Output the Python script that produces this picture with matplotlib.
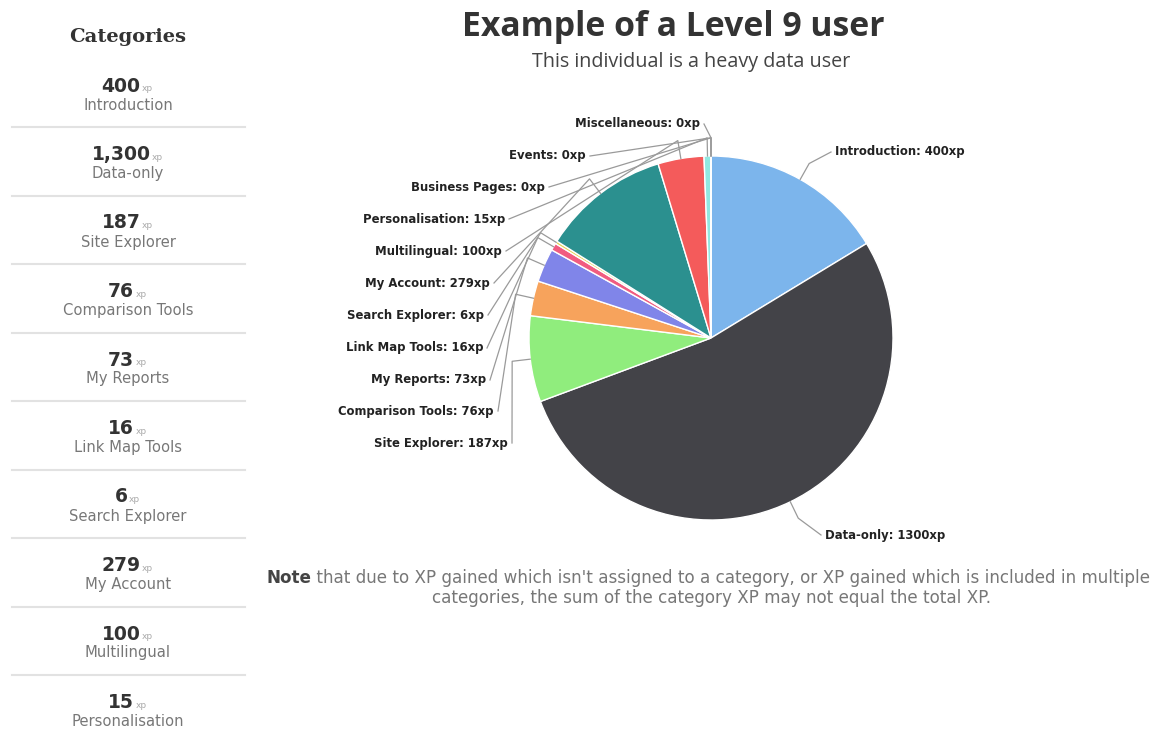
import numpy as np
import matplotlib
matplotlib.use("Agg")
import matplotlib.pyplot as plt

# ── data ────────────────────────────────────────────────────
categories = ["Introduction", "Data-only", "Site Explorer", "Comparison Tools",
              "My Reports", "Link Map Tools", "Search Explorer", "My Account",
              "Multilingual", "Personalisation", "Business Pages", "Events",
              "Miscellaneous"]
xp_values = [400, 1300, 187, 76, 73, 16, 6, 279, 100, 15, 0, 0, 0]
slice_colors = ["#7cb5ec", "#434348", "#90ed7d", "#f7a35c", "#8085e9", "#f15c80",
                "#e4d354", "#2b908f", "#f45b5b", "#91e8e1", "#7cb5ec", "#434348",
                "#90ed7d"]
SIDE_N = 10   # the side list shows the first ten categories

TITLE = "Example of a Level 9 user"
SUBTITLE = "This individual is a heavy data user"
NOTE_1 = " that due to XP gained which isn't assigned to a category, or XP gained which is included in multiple"
NOTE_2 = "categories, the sum of the category XP may not equal the total XP."

# ── layout (pixels, origin top-left) ───────────────────────
W, H = 1164, 733
CX, CY, R = 711, 338, 182
# label anchor (x, y, ha) for each slice
LABEL_POS = [
    (835, 152, "left"), (825, 535, "left"), (508, 443, "right"),
    (494, 411, "right"), (486, 380, "right"), (483, 348, "right"),
    (484, 315, "right"), (490, 283, "right"), (502, 251, "right"),
    (505, 219, "right"), (545, 187, "right"), (586, 156, "right"),
    (700, 124, "right"),
]


def Y(y):
    return H - y


fig = plt.figure(figsize=(W / 100, H / 100), dpi=100)
ax = fig.add_axes([0, 0, 1, 1])

wedges, _ = ax.pie(xp_values, colors=slice_colors, startangle=90, counterclock=False,
                   center=(CX, Y(CY)), radius=R,
                   wedgeprops=dict(edgecolor="white", linewidth=1))
ax.set_xlim(0, W)
ax.set_ylim(0, H)
ax.set_aspect("equal")
ax.axis("off")

# data labels + connectors
for i, w in enumerate(wedges):
    mid = np.deg2rad((w.theta1 + w.theta2) / 2)
    ex, ey = CX + R * np.cos(mid), Y(CY) + R * np.sin(mid)
    bx, by = CX + 1.1 * R * np.cos(mid), Y(CY) + 1.1 * R * np.sin(mid)
    lx, ly, ha = LABEL_POS[i]
    ax_ = lx + 4 if ha == "right" else lx - 4
    ax.plot([ax_, bx, ex], [Y(ly), by, ey], color="#9a9a9a", lw=0.9, zorder=1)
    ax.text(lx, Y(ly), f"{categories[i]}: {xp_values[i]}xp", ha=ha, va="center",
            fontsize=8.4, fontweight="bold", color="#222222", family="DejaVu Sans")

# titles
ax.text(673, Y(27), TITLE, ha="center", va="center", fontsize=24.3,
        fontweight="bold", color="#333333", family="Open Sans")
ax.text(691, Y(62), SUBTITLE, ha="center", va="center", fontsize=14.2,
        color="#444444", family="Open Sans")

# note
note = ax.text(266, Y(578), "Note", ha="left", va="center", fontsize=12.1,
               fontweight="bold", color="#444444", family="DejaVu Sans")
ax.annotate(NOTE_1, xy=(1, 0.5), xycoords=note, va="center", ha="left",
            fontsize=12.1, color="#777777", family="DejaVu Sans")
ax.text(712, Y(598), NOTE_2, ha="center", va="center", fontsize=12.1,
        color="#777777", family="DejaVu Sans")

# side list
ax.text(128, Y(37), "Categories", ha="center", va="center", fontsize=14,
        fontweight="bold", color="#333333", family="DejaVu Serif")
step = 68.5
for i in range(SIDE_N):
    y0 = 86 + i * step
    val = ax.text(121, Y(y0), f"{xp_values[i]:,}", ha="center", va="center",
                  fontsize=13.5, fontweight="bold", color="#333333", family="DejaVu Sans")
    ax.annotate("xp", xy=(1, 0.12), xycoords=val, xytext=(1, 0), textcoords="offset points",
                ha="left", va="bottom", fontsize=6.5, color="#aaaaaa", family="DejaVu Sans")
    ax.text(128, Y(y0 + 19), categories[i], ha="center", va="center", fontsize=10.6,
            color="#777777", family="DejaVu Sans")
    if i < SIDE_N - 1:
        ax.plot([12, 245], [Y(y0 + 41), Y(y0 + 41)], color="#e2e2e2", lw=1.5)

fig.savefig("out.png", dpi=100, facecolor="white")
